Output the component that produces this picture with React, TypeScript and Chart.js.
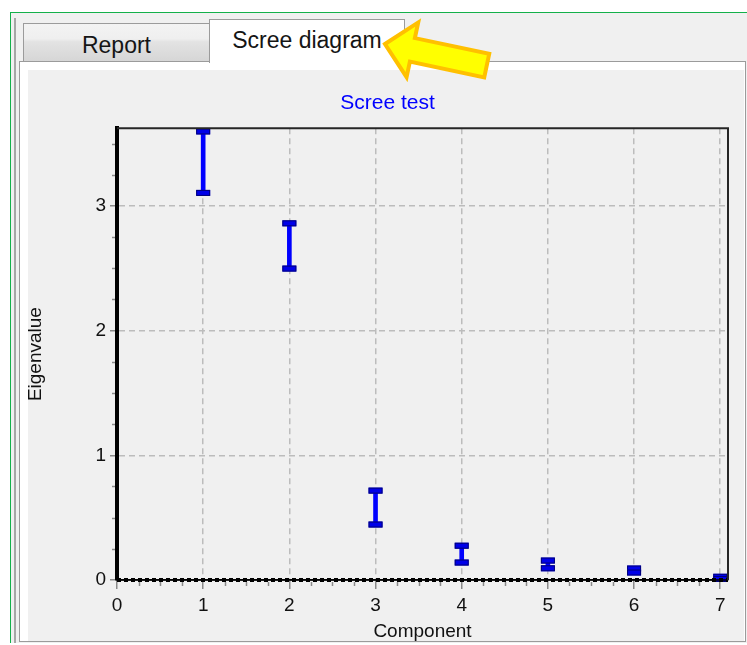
import { useEffect, useRef } from 'react';
import { Chart, registerables } from 'chart.js';

Chart.register(...registerables);

// Eigenvalue intervals per component (lower / upper ends of each bar)
const components = [1, 2, 3, 4, 5, 6, 7];
const lowerBounds = [3.105, 2.498, 0.445, 0.14, 0.094, 0.06, 0.008];
const upperBounds = [3.598, 2.861, 0.717, 0.275, 0.156, 0.092, 0.026];

// Axis ranges and labelled ticks
const xRange = [0, 7.09];
const yRange = [0, 3.624];
const xTickLabels = ['0', '1', '2', '3', '4', '5', '6', '7'];
const yTickLabels = ['0', '1', '2', '3'];
const minorStep = 0.25;

const FONT = "'Liberation Sans', Arial, sans-serif";
const TEXT = '#111111';
const GRID = '#bcbcbc';
const TICK = '#8a8a8a';

// Short minor tick marks, interval caps, dashed zero line and plot frame
const screeDecor = {
  id: 'screeDecor',
  beforeDatasetsDraw(chart: any) {
    const { ctx, chartArea: a, scales } = chart;
    const x = scales.x;
    const y = scales.y;
    ctx.save();
    ctx.strokeStyle = TICK;
    ctx.lineWidth = 1.5;
    ctx.beginPath();
    for (let v = minorStep; v < x.max; v += minorStep) {
      if (Math.abs(v - Math.round(v)) < 1e-6) continue;
      const px = Math.round(x.getPixelForValue(v)) + 0.5;
      ctx.moveTo(px, a.bottom + 2);
      ctx.lineTo(px, a.bottom + 6);
    }
    for (let v = minorStep; v < y.max; v += minorStep) {
      if (Math.abs(v - Math.round(v)) < 1e-6) continue;
      const py = Math.round(y.getPixelForValue(v)) + 0.5;
      ctx.moveTo(a.left - 5, py);
      ctx.lineTo(a.left - 2, py);
    }
    ctx.stroke();
    ctx.restore();
  },
  afterDatasetsDraw(chart: any) {
    const { ctx, chartArea: a, scales } = chart;
    const x = scales.x;
    const y = scales.y;

    ctx.save();
    ctx.beginPath();
    ctx.rect(a.left, a.top - 4, a.right - a.left, a.bottom - a.top + 8);
    ctx.clip();
    components.forEach((c, i) => {
      const px = x.getPixelForValue(c);
      [upperBounds[i], lowerBounds[i]].forEach((v) => {
        const py = y.getPixelForValue(v);
        ctx.fillStyle = '#0000e8';
        ctx.fillRect(px - 7, py - 3, 14, 6);
        ctx.strokeStyle = '#000078';
        ctx.lineWidth = 1;
        ctx.strokeRect(px - 6.5, py - 2.5, 13, 5);
      });
    });
    ctx.restore();

    ctx.save();
    const y0 = y.getPixelForValue(0);
    ctx.strokeStyle = '#000000';
    ctx.lineWidth = 1.5;
    ctx.beginPath();
    ctx.moveTo(a.left, y0);
    ctx.lineTo(a.right, y0);
    ctx.stroke();
    ctx.lineWidth = 4;
    ctx.setLineDash([4, 3]);
    ctx.beginPath();
    ctx.moveTo(a.left, y0);
    ctx.lineTo(a.right, y0);
    ctx.stroke();
    ctx.setLineDash([]);
    ctx.strokeStyle = '#262626';
    ctx.lineWidth = 2;
    ctx.beginPath();
    ctx.moveTo(a.left, a.top);
    ctx.lineTo(a.right, a.top);
    ctx.lineTo(a.right, a.bottom);
    ctx.stroke();
    ctx.restore();
  },
};

function ScreeChart() {
  const ref = useRef<HTMLCanvasElement | null>(null);

  useEffect(() => {
    if (!ref.current) return;
    const chart = new Chart(ref.current, {
      type: 'bar',
      data: {
        datasets: [
          {
            label: 'Eigenvalue',
            data: components.map((c, i) => ({ x: c, y: [lowerBounds[i], upperBounds[i]] })) as any,
            backgroundColor: '#0000ff',
            borderWidth: 0,
            barThickness: 4,
            grouped: false,
          },
        ],
      },
      options: {
        responsive: false,
        animation: false,
        devicePixelRatio: 1,
        layout: { padding: 0 },
        plugins: {
          legend: { display: false },
          tooltip: { enabled: false },
          title: {
            display: true,
            text: 'Scree test',
            color: '#0000ff',
            font: { family: FONT, size: 21, weight: 'normal', lineHeight: 1.2 },
            padding: { top: 21, bottom: 12 },
          },
        },
        scales: {
          x: {
            type: 'linear',
            min: xRange[0],
            max: xRange[1],
            offset: false,
            afterFit: (s: any) => {
              s.height = 61;
            },
            ticks: {
              stepSize: 1,
              includeBounds: false,
              autoSkip: false,
              maxRotation: 0,
              padding: 5,
              color: TEXT,
              font: { family: FONT, size: 19, lineHeight: 1.2 },
              callback: (v: any) => (xTickLabels.includes(String(v)) ? String(v) : null),
            },
            grid: {
              offset: false,
              drawTicks: true,
              tickLength: 9,
              tickWidth: 1.5,
              tickColor: TICK,
              tickBorderDash: [],
              lineWidth: 1.5,
              color: (ctx: any) => (ctx.tick && ctx.tick.value === 0 ? 'rgba(0,0,0,0)' : GRID),
            },
            border: { display: true, color: '#000000', width: 1.5, dash: [6, 4] },
            title: {
              display: true,
              text: 'Component',
              color: TEXT,
              font: { family: FONT, size: 19, lineHeight: 1 },
              padding: { top: 0, bottom: 0 },
            },
          },
          y: {
            type: 'linear',
            min: yRange[0],
            max: yRange[1],
            afterFit: (s: any) => {
              s.width = 89;
            },
            ticks: {
              stepSize: 1,
              includeBounds: false,
              padding: 4,
              color: TEXT,
              font: { family: FONT, size: 19, lineHeight: 1.2 },
              callback: (v: any) => (yTickLabels.includes(String(v)) ? String(v) : null),
            },
            grid: {
              drawTicks: true,
              tickLength: 7,
              tickWidth: 1.5,
              tickColor: TICK,
              tickBorderDash: [],
              lineWidth: 1.5,
              color: (ctx: any) => (ctx.tick && ctx.tick.value === 0 ? 'rgba(0,0,0,0)' : GRID),
            },
            border: { display: true, color: '#000000', width: 4, dash: [6, 4] },
            title: {
              display: true,
              text: 'Eigenvalue',
              color: TEXT,
              font: { family: FONT, size: 19, lineHeight: 0.8 },
              padding: { top: 0, bottom: 0 },
            },
          },
          // empty margin on the right so the title stays centred on the whole panel
          margin: {
            type: 'linear',
            position: 'right',
            display: true,
            afterFit: (s: any) => {
              s.width = 19;
            },
            ticks: { display: false },
            grid: { display: false, drawTicks: false },
            border: { display: false },
            title: { display: false },
          },
        },
      } as any,
      plugins: [screeDecor],
    });
    return () => chart.destroy();
  }, []);

  return (
    <canvas
      ref={ref}
      width={719}
      height={571}
      style={{ position: 'absolute', left: 28, top: 70, width: 719, height: 571 }}
    />
  );
}

export default function App() {
  const tabText = { fontFamily: FONT, fontSize: 23, lineHeight: '23px', color: '#151515' } as const;
  return (
    <div
      style={{
        position: 'absolute',
        left: 0,
        top: 0,
        width: 747,
        height: 645,
        background: '#ffffff',
        overflow: 'hidden',
      }}
    >
      {/* window frame */}
      <div
        style={{
          position: 'absolute',
          left: 10,
          top: 12,
          width: 800,
          height: 631,
          border: '1.5px solid #14b04a',
          borderBottom: 'none',
          background: '#f0f0f0',
          boxSizing: 'border-box',
        }}
      />
      <div style={{ position: 'absolute', left: 14, top: 18, width: 1.5, height: 625, background: '#a6a6a6' }} />

      {/* inactive tab */}
      <div
        style={{
          position: 'absolute',
          left: 23,
          top: 23,
          width: 187,
          height: 39,
          border: '1px solid #9b9b9b',
          boxSizing: 'border-box',
          background: 'linear-gradient(to bottom, #f3f3f3 0%, #efefef 40%, #e3e3e3 48%, #d6d6d6 100%)',
        }}
      >
        <div style={{ ...tabText, position: 'absolute', left: 0, right: 0, top: 9.5, textAlign: 'center' }}>Report</div>
      </div>

      {/* tab page */}
      <div
        style={{
          position: 'absolute',
          left: 19,
          top: 61,
          width: 727,
          height: 581,
          border: '1px solid #9b9b9b',
          background: '#ffffff',
          boxSizing: 'border-box',
        }}
      />
      <div style={{ position: 'absolute', left: 28, top: 70, width: 716, height: 571, background: '#f0f0f0' }} />

      {/* active tab */}
      <div
        style={{
          position: 'absolute',
          left: 209,
          top: 19,
          width: 196,
          height: 44,
          borderTop: '1px solid #9b9b9b',
          borderLeft: '1px solid #9b9b9b',
          borderRight: '1px solid #9b9b9b',
          boxSizing: 'border-box',
          background: '#ffffff',
        }}
      >
        <div style={{ ...tabText, position: 'absolute', left: 0, right: 0, top: 8.8, textAlign: 'center' }}>
          Scree diagram
        </div>
      </div>

      <ScreeChart />

      {/* pointer arrow */}
      <svg
        width={747}
        height={645}
        style={{ position: 'absolute', left: 0, top: 0, pointerEvents: 'none' }}
      >
        <polygon
          transform="translate(385,44) rotate(12)"
          points="0,0 28,-28 28,-12 104,-12 104,12 28,12 28,28"
          fill="#ffff00"
          stroke="#ffc000"
          strokeWidth={4}
          strokeLinejoin="miter"
        />
      </svg>
    </div>
  );
}
